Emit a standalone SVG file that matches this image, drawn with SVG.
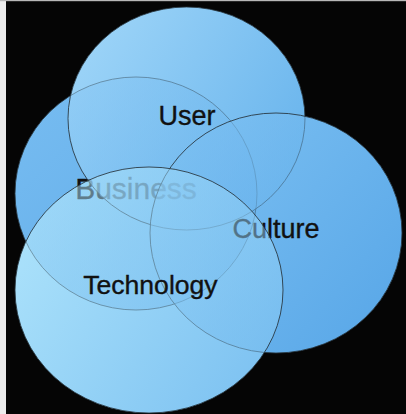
<svg xmlns="http://www.w3.org/2000/svg" width="406" height="414" viewBox="0 0 406 414">
  <defs>
    <linearGradient id="g-user" x1="0" y1="0" x2="1" y2="0.6">
      <stop offset="0" stop-color="#a3d8f9"/>
      <stop offset="1" stop-color="#6ab5ed"/>
    </linearGradient>
    <linearGradient id="g-business" x1="0" y1="0" x2="1" y2="1">
      <stop offset="0" stop-color="#78bdf1"/>
      <stop offset="1" stop-color="#5ca9e8"/>
    </linearGradient>
    <linearGradient id="g-culture" x1="0" y1="0" x2="1" y2="0.8">
      <stop offset="0" stop-color="#80c3f3"/>
      <stop offset="1" stop-color="#5aa8e8"/>
    </linearGradient>
    <linearGradient id="g-tech" x1="0" y1="0.2" x2="1" y2="0.8">
      <stop offset="0" stop-color="#ade3fb"/>
      <stop offset="1" stop-color="#7cc1f1"/>
    </linearGradient>
  </defs>
  <style>
    .veil { fill-opacity: 0.52; stroke: #26323b; stroke-width: 1; stroke-opacity: 0.85; }
    .label { font-family: "Liberation Sans", Arial, sans-serif; fill: #111; stroke: #111; stroke-width: 0.35; text-anchor: middle; }
  </style>

  <!-- backdrop and frame edges -->
  <rect x="0" y="0" width="406" height="414" fill="#050505"/>
  <rect x="0" y="0" width="6" height="414" fill="#ececec"/>
  <rect x="0" y="0" width="406" height="1.2" fill="#b8b8b8"/>

  <!-- solid underlay so overlapping areas keep the same tone -->
  <g id="underlay">
    <ellipse cx="136" cy="193.5" rx="121" ry="116.5" fill="url(#g-business)"/>
    <ellipse cx="186.5" cy="118.5" rx="118.5" ry="111.5" fill="url(#g-user)"/>
    <ellipse cx="276" cy="233" rx="126" ry="120" fill="url(#g-culture)"/>
    <ellipse cx="149" cy="290" rx="134" ry="123" fill="url(#g-tech)"/>
  </g>

  <g id="business">
    <ellipse class="veil" cx="136" cy="193.5" rx="121" ry="116.5" fill="url(#g-business)"/>
    <text class="label" x="136" y="199" font-size="30">Business</text>
  </g>

  <g id="user">
    <ellipse class="veil" cx="186.5" cy="118.5" rx="118.5" ry="111.5" fill="url(#g-user)"/>
    <text class="label" x="187" y="125" font-size="27">User</text>
  </g>

  <g id="culture">
    <ellipse class="veil" cx="276" cy="233" rx="126" ry="120" fill="url(#g-culture)"/>
    <text class="label" x="276" y="238" font-size="27">Culture</text>
  </g>

  <g id="technology">
    <ellipse class="veil" cx="149" cy="290" rx="134" ry="123" fill="url(#g-tech)"/>
    <text class="label" x="150.4" y="294" font-size="26.6">Technology</text>
  </g>
</svg>
